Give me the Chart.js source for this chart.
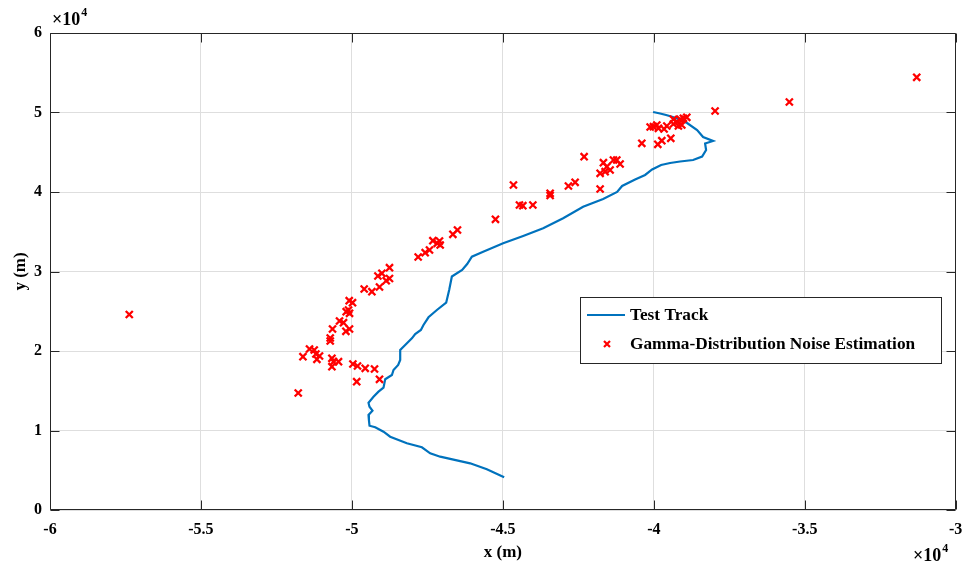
<!DOCTYPE html>
<html><head><meta charset="utf-8">
<script src="https://cdn.jsdelivr.net/npm/chart.js@4/dist/chart.umd.min.js"></script>
<style>html,body{margin:0;padding:0;background:#fff}#wrap{width:963px;height:567px}</style>
</head><body><div id="wrap"><canvas id="c" width="963" height="567"></canvas></div>
<script>
const seriesNames = ['Test Track', 'Gamma-Distribution Noise Estimation'];
const trackX = [-40023,-39791,-39592,-39261,-38897,-38566,-38367,-38036,-38301,-38268,
  -38400,-38698,-39129,-39460,-39758,-40056,-40288,-40619,-41049,-41215,
  -41678,-42341,-43003,-43665,-44327,-44990,-45652,-46026,-46182,-46348,
  -46689,-46778,-46877,-47185,-47463,-47629,-47715,-47904,-48013,-48235,
  -48400,-48400,-48467,-48622,-48675,-48897,-48953,-49119,-49285,-49450,
  -49417,-49318,-49450,-49437,-49417,-49228,-48953,-48732,-48179,-47682,
  -47407,-47076,-46083,-45530,-44957];
const trackY = [50064,49876,49687,49310,48681,47800,46920,46417,46102,45284,
  44467,44027,43838,43649,43398,42832,42140,41574,40756,40001,
  39121,38152,36693,35435,34466,33548,32492,31863,30944,30190,
  29372,27674,26076,25158,24240,23271,22642,22139,21598,20755,
  20126,18869,18240,17611,16982,16441,15384,14881,14252,13497,
  12994,12491,11950,11321,10604,10403,9849,9220,8390,7887,
  7132,6705,5874,5120,4113];
const estX = [-57374,-51778,-51622,-51404,-51248,-51192,-51073,-51159,-50718,-50718,
  -50642,-50662,-50609,-50444,-50662,-50410,-50278,-50199,-50079,-50189,
  -50112,-50079,-50089,-49980,-49967,-49814,-49559,-49251,-49841,-49086,
  -49593,-49338,-49086,-49139,-49006,-48755,-48755,-48864,-47805,-47573,
  -47430,-47318,-47099,-47076,-47175,-46655,-46503,-45245,-44649,-44450,
  -44338,-44006,-43434,-43434,-42828,-42606,-42308,-41778,-41778,-41612,
  -41447,-41669,-41556,-41337,-41116,-41225,-40397,-39867,-39735,-39437,
  -40013,-39847,-39900,-39569,-39351,-39238,-39129,-39020,-38907,-39185,
  -39073,-39351,-37970,-35510,-31291,-40122,-39659];
const estY = [24592,14717,19284,20252,20126,19623,19372,18957,21636,21259,
  22768,19082,18655,18655,18026,23774,23560,22479,22768,24944,
  25158,24743,26328,26076,18365,18114,17824,17736,16139,16441,
  27800,27460,28051,29435,29774,30479,29120,28844,31825,32366,
  32705,33875,33838,33334,33548,34680,35221,36567,40882,38366,
  38278,38366,39838,39561,40756,41221,44442,40379,42354,42555,
  42769,43687,43184,44027,43523,44027,46127,46001,46454,46756,
  48215,48014,48429,48303,48555,48844,49146,49272,49398,48303,
  48429,49146,50190,51322,54429,48178,47925];
const xTicks = [-60000,-55000,-50000,-45000,-40000,-35000,-30000];
const xTickLabels = ['-6','-5.5','-5','-4.5','-4','-3.5','-3'];
const yTicks = [0,10000,20000,30000,40000,50000,60000];
const yTickLabels = ['0','1','2','3','4','5','6'];
const xTitle = 'x (m)';
const yTitle = 'y (m)';
const expLabel = '\u00d710';
const expPower = '4';

const SERIF = '"Liberation Serif", "Times New Roman", serif';
const lineColor = '#0072BD';
const markColor = '#FF0000';

const decor = {
  id: 'decor',
  afterDraw(chart) {
    const ctx = chart.ctx;
    const a = chart.chartArea;
    const xs = chart.scales.x, ys = chart.scales.y;
    ctx.save();
    ctx.strokeStyle = '#262626';
    ctx.lineWidth = 1;
    const L = Math.round(a.left) + 0.5, R = Math.round(a.right) - 0.5;
    const T = Math.round(a.top) + 0.5, B = Math.round(a.bottom) - 0.5;
    ctx.beginPath();
    ctx.rect(L, T, R - L, B - T);
    const tl = 9;
    xTicks.forEach(v => {
      const p = Math.round(xs.getPixelForValue(v)) + 0.5;
      ctx.moveTo(p, B); ctx.lineTo(p, B - tl);
      ctx.moveTo(p, T); ctx.lineTo(p, T + tl);
    });
    yTicks.forEach(v => {
      const p = Math.round(ys.getPixelForValue(v)) + 0.5;
      ctx.moveTo(L, p); ctx.lineTo(L + tl, p);
      ctx.moveTo(R, p); ctx.lineTo(R - tl, p);
    });
    ctx.stroke();

    // exponent labels
    ctx.fillStyle = '#000';
    ctx.textBaseline = 'alphabetic';
    ctx.textAlign = 'left';
    const drawExp = (x, y) => {
      ctx.font = 'bold 18px ' + SERIF;
      ctx.fillText(expLabel, x, y);
      const w = ctx.measureText(expLabel).width;
      ctx.font = 'bold 12px ' + SERIF;
      ctx.fillText(expPower, x + w + 1, y - 9);
    };
    drawExp(52, 25);
    drawExp(913, 561);

    // legend
    const lx = 580, ly = 297, lw = 361, lh = 66;
    ctx.fillStyle = '#fff';
    ctx.fillRect(lx, ly, lw, lh);
    ctx.strokeStyle = '#262626';
    ctx.lineWidth = 1;
    ctx.strokeRect(lx + 0.5, ly + 0.5, lw, lh);
    const y1 = ly + 18, y2 = ly + 47;
    ctx.strokeStyle = lineColor;
    ctx.lineWidth = 2;
    ctx.beginPath(); ctx.moveTo(587, y1); ctx.lineTo(625, y1); ctx.stroke();
    ctx.strokeStyle = markColor;
    ctx.lineWidth = 2.2;
    const mx = 607, r = 3;
    ctx.beginPath();
    ctx.moveTo(mx - r, y2 - r); ctx.lineTo(mx + r, y2 + r);
    ctx.moveTo(mx + r, y2 - r); ctx.lineTo(mx - r, y2 + r);
    ctx.stroke();
    ctx.fillStyle = '#000';
    ctx.font = 'bold 17.3px ' + SERIF;
    ctx.textBaseline = 'middle';
    ctx.fillText(seriesNames[0], 630, y1 + 1);
    ctx.fillText(seriesNames[1], 630, y2 + 1);
    ctx.restore();
  }
};

const trackData = trackX.map((x, i) => ({x, y: trackY[i]}));
const estData = estX.map((x, i) => ({x, y: estY[i]}));

new Chart(document.getElementById('c'), {
  type: 'scatter',
  data: {
    datasets: [
      {label: seriesNames[0], data: trackData, showLine: true, borderColor: lineColor,
       backgroundColor: lineColor, borderWidth: 2.2, pointRadius: 0, tension: 0, order: 2},
      {label: seriesNames[1], data: estData, showLine: false, pointStyle: 'crossRot',
       pointRadius: 5, borderColor: markColor, backgroundColor: markColor,
       pointBorderWidth: 2.3, borderWidth: 2.3, order: 1}
    ]
  },
  options: {
    responsive: false,
    animation: false,
    devicePixelRatio: 1,
    layout: {padding: {left: 0, right: 7, top: 33, bottom: 0}},
    plugins: {legend: {display: false}, tooltip: {enabled: false}},
    scales: {
      x: {
        type: 'linear', min: -60000, max: -30000,
        afterBuildTicks: s => { s.ticks = xTicks.map(v => ({value: v})); },
        afterFit: s => { s.height = 57; s.paddingLeft = 0; s.paddingRight = 0; },
        grid: {color: '#DEDEDE', drawTicks: false, lineWidth: 1},
        border: {display: false},
        ticks: {autoSkip: false, maxRotation: 0, padding: 10, color: '#000',
          font: {family: SERIF, size: 16, weight: 'bold'},
          callback: (v, i) => xTickLabels[i]},
        title: {display: true, text: xTitle, color: '#000',
          font: {family: SERIF, size: 17, weight: 'bold'}, padding: {top: 0, bottom: 4}}
      },
      y: {
        type: 'linear', min: 0, max: 60000,
        afterBuildTicks: s => { s.ticks = yTicks.map(v => ({value: v})); },
        afterFit: s => { s.width = 50; s.paddingTop = 0; s.paddingBottom = 0; },
        grid: {color: '#DEDEDE', drawTicks: false, lineWidth: 1},
        border: {display: false},
        ticks: {autoSkip: false, padding: 8, color: '#000',
          font: {family: SERIF, size: 16, weight: 'bold'},
          callback: (v, i) => yTickLabels[i]},
        title: {display: true, text: yTitle, color: '#000',
          font: {family: SERIF, size: 17, weight: 'bold'}, padding: {top: 10, bottom: 0}}
      }
    }
  },
  plugins: [decor]
});
</script>
</body></html>
